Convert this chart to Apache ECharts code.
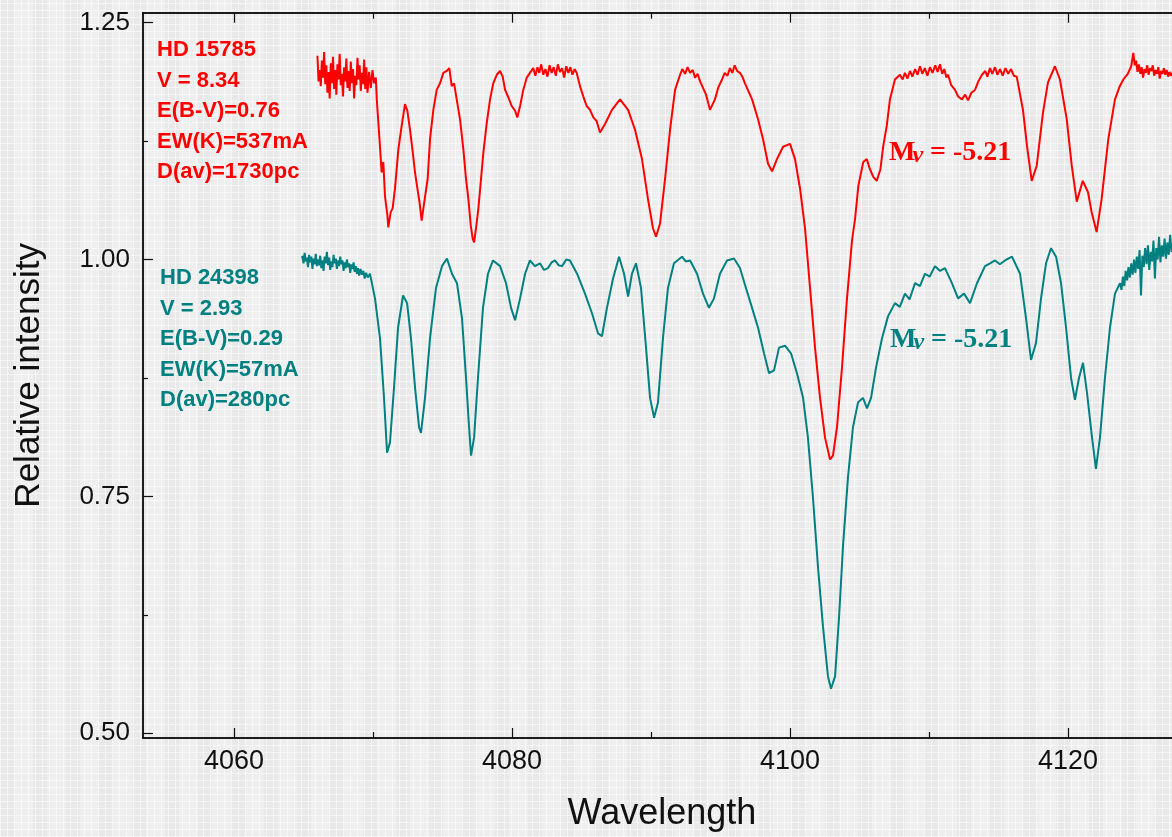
<!DOCTYPE html>
<html>
<head>
<meta charset="utf-8">
<title>Spectra</title>
<script src="https://cdn.jsdelivr.net/npm/echarts@6/dist/echarts.min.js"></script>
<style>
  html, body { margin: 0; padding: 0; overflow: hidden; }
  body {
    width: 1172px; height: 837px;
    background-color: #eeeeee;
    background-image:
      repeating-linear-gradient(90deg, rgba(255,255,255,0.55) 0 1px, transparent 1px 7px),
      repeating-linear-gradient(0deg, rgba(255,255,255,0.55) 0 1px, transparent 1px 7px),
      repeating-linear-gradient(90deg, rgba(0,0,0,0.025) 0 14px, transparent 14px 33px);
  }
  /* the plot runs on past the right edge of the picture */
  #chart { width: 1200px; height: 837px; }
</style>
</head>
<body>
<div id="chart"></div>
<script>
  // wavelength (A), relative intensity
  var redSpectrum = [
    [4066.00,1.215],[4066.08,1.188],[4066.16,1.200],[4066.24,1.183],[4066.32,1.210],[4066.40,1.192],
    [4066.48,1.219],[4066.56,1.185],[4066.64,1.205],[4066.72,1.176],[4066.80,1.198],[4066.88,1.170],
    [4066.96,1.207],[4067.04,1.186],[4067.12,1.214],[4067.20,1.180],[4067.28,1.200],[4067.36,1.174],
    [4067.44,1.206],[4067.52,1.190],[4067.60,1.217],[4067.68,1.184],[4067.76,1.196],[4067.84,1.172],
    [4067.92,1.203],[4068.00,1.188],[4068.08,1.212],[4068.16,1.181],[4068.24,1.199],[4068.32,1.178],
    [4068.40,1.209],[4068.48,1.186],[4068.56,1.201],[4068.64,1.170],[4068.72,1.194],[4068.80,1.184],
    [4068.88,1.213],[4068.96,1.190],[4069.04,1.205],[4069.12,1.178],[4069.20,1.197],[4069.28,1.185],
    [4069.36,1.211],[4069.44,1.180],[4069.52,1.203],[4069.60,1.176],[4069.72,1.198],[4069.84,1.181],
    [4069.96,1.200],[4070.08,1.186],[4070.20,1.192],[4070.27,1.169],[4070.45,1.130],[4070.62,1.092],
    [4070.74,1.103],[4070.86,1.067],[4071.03,1.047],[4071.10,1.034],[4071.27,1.050],[4071.41,1.054],
    [4071.58,1.075],[4071.82,1.116],[4072.06,1.141],[4072.30,1.164],[4072.47,1.157],[4072.66,1.137],
    [4072.86,1.113],[4073.02,1.092],[4073.19,1.075],[4073.34,1.061],[4073.50,1.041],[4073.67,1.059],
    [4073.81,1.057],[4073.93,1.085],[4074.10,1.127],[4074.34,1.158],[4074.58,1.179],[4074.82,1.186],
    [4075.06,1.197],[4075.30,1.199],[4075.49,1.202],[4075.66,1.183],[4075.83,1.186],[4076.02,1.169],
    [4076.26,1.148],[4076.50,1.116],[4076.69,1.085],[4076.86,1.064],[4077.03,1.036],[4077.17,1.022],
    [4077.27,1.018],[4077.41,1.033],[4077.58,1.054],[4077.75,1.082],[4077.94,1.113],[4078.18,1.144],
    [4078.42,1.169],[4078.65,1.186],[4078.90,1.195],[4079.14,1.199],[4079.33,1.193],[4079.50,1.179],
    [4079.74,1.171],[4079.98,1.162],[4080.22,1.157],[4080.38,1.150],[4080.58,1.162],[4080.81,1.179],
    [4081.06,1.192],[4081.29,1.197],[4081.53,1.202],[4081.68,1.194],[4081.83,1.203],[4081.96,1.197],
    [4082.10,1.206],[4082.25,1.195],[4082.40,1.201],[4082.55,1.193],[4082.70,1.205],[4082.85,1.197],
    [4083.00,1.203],[4083.15,1.194],[4083.30,1.206],[4083.45,1.198],[4083.60,1.202],[4083.75,1.192],
    [4083.90,1.204],[4084.05,1.197],[4084.20,1.203],[4084.35,1.195],[4084.50,1.201],[4084.65,1.197],
    [4084.89,1.183],[4085.13,1.172],[4085.37,1.162],[4085.61,1.158],[4085.85,1.150],[4086.09,1.146],
    [4086.33,1.134],[4086.69,1.143],[4087.19,1.158],[4087.77,1.169],[4088.35,1.158],[4088.85,1.137],
    [4089.35,1.106],[4089.78,1.064],[4090.14,1.033],[4090.36,1.024],[4090.65,1.038],[4091.01,1.085],
    [4091.37,1.137],[4091.73,1.179],[4092.09,1.195],[4092.25,1.201],[4092.45,1.196],[4092.63,1.203],
    [4092.81,1.197],[4093.00,1.200],[4093.17,1.192],[4093.35,1.196],[4093.53,1.188],[4093.96,1.174],
    [4094.24,1.158],[4094.60,1.169],[4094.85,1.182],[4095.11,1.190],[4095.30,1.197],[4095.50,1.194],
    [4095.68,1.202],[4095.85,1.197],[4096.02,1.205],[4096.19,1.199],[4096.40,1.197],[4096.60,1.192],
    [4096.76,1.186],[4097.27,1.169],[4097.70,1.148],[4098.06,1.127],[4098.42,1.101],[4098.71,1.093],
    [4099.06,1.106],[4099.50,1.119],[4100.00,1.122],[4100.36,1.106],[4100.72,1.075],[4101.08,1.033],
    [4101.44,0.970],[4101.80,0.907],[4102.16,0.854],[4102.52,0.812],[4102.88,0.789],[4103.09,0.793],
    [4103.38,0.823],[4103.74,0.886],[4104.10,0.959],[4104.46,1.020],[4104.68,1.043],[4104.92,1.078],
    [4105.27,1.103],[4105.52,1.106],[4105.76,1.095],[4106.00,1.087],[4106.24,1.083],[4106.50,1.095],
    [4106.71,1.120],[4106.96,1.141],[4107.19,1.169],[4107.55,1.190],[4107.91,1.195],[4108.10,1.190],
    [4108.27,1.197],[4108.45,1.191],[4108.63,1.199],[4108.80,1.193],[4109.00,1.201],[4109.18,1.195],
    [4109.35,1.204],[4109.52,1.196],[4109.70,1.202],[4109.88,1.194],[4110.07,1.203],[4110.25,1.197],
    [4110.45,1.205],[4110.62,1.198],[4110.79,1.206],[4110.95,1.196],[4111.10,1.201],[4111.25,1.192],
    [4111.37,1.195],[4111.60,1.184],[4111.87,1.179],[4112.10,1.172],[4112.37,1.169],[4112.60,1.174],
    [4112.81,1.168],[4113.05,1.176],[4113.31,1.179],[4113.55,1.188],[4113.81,1.195],[4114.05,1.199],
    [4114.20,1.193],[4114.39,1.202],[4114.55,1.196],[4114.75,1.203],[4114.92,1.195],[4115.11,1.201],
    [4115.30,1.194],[4115.50,1.202],[4115.70,1.196],[4115.90,1.201],[4116.10,1.194],[4116.31,1.193],
    [4116.76,1.158],[4117.05,1.120],[4117.39,1.083],[4117.75,1.099],[4118.20,1.155],[4118.56,1.187],
    [4119.06,1.204],[4119.42,1.190],[4119.91,1.148],[4120.27,1.099],[4120.63,1.061],[4121.06,1.083],
    [4121.44,1.071],[4121.70,1.050],[4122.06,1.029],[4122.42,1.064],[4122.90,1.127],[4123.38,1.169],
    [4123.70,1.182],[4123.98,1.190],[4124.30,1.196],[4124.55,1.204],[4124.70,1.218],[4124.80,1.205],
    [4124.90,1.210],[4125.00,1.198],[4125.10,1.206],[4125.20,1.196],[4125.30,1.203],[4125.40,1.192],
    [4125.50,1.201],[4125.60,1.197],[4125.70,1.205],[4125.80,1.195],[4125.90,1.202],[4126.00,1.199],
    [4126.10,1.205],[4126.20,1.194],[4126.30,1.200],[4126.40,1.196],[4126.50,1.203],[4126.60,1.191],
    [4126.70,1.199],[4126.80,1.196],[4126.90,1.202],[4127.00,1.195],[4127.10,1.200],[4127.20,1.193],
    [4127.30,1.198],[4127.40,1.194],[4127.60,1.199],[4127.80,1.196],[4128.00,1.198]
  ];

  var tealSpectrum = [
    [4064.90,1.004],[4065.00,0.996],[4065.08,1.007],[4065.16,0.998],[4065.24,1.002],[4065.32,0.992],
    [4065.40,1.005],[4065.48,0.997],[4065.56,1.003],[4065.64,0.990],[4065.72,1.001],[4065.80,0.995],
    [4065.88,1.006],[4065.96,0.993],[4066.04,1.000],[4066.12,0.994],[4066.20,1.004],[4066.28,0.991],
    [4066.36,0.999],[4066.44,0.988],[4066.52,1.003],[4066.60,0.996],[4066.68,1.008],[4066.76,0.994],
    [4066.84,1.002],[4066.92,0.989],[4067.00,0.998],[4067.08,0.992],[4067.16,1.005],[4067.24,0.996],
    [4067.32,1.001],[4067.40,0.990],[4067.48,0.999],[4067.56,0.993],[4067.64,1.003],[4067.72,0.995],
    [4067.80,0.999],[4067.88,0.988],[4067.96,0.997],[4068.04,0.991],[4068.12,1.000],[4068.20,0.992],
    [4068.28,0.996],[4068.36,0.986],[4068.44,0.995],[4068.52,0.990],[4068.60,0.997],[4068.68,0.987],
    [4068.76,0.993],[4068.84,0.985],[4068.92,0.991],[4069.00,0.983],[4069.10,0.990],[4069.20,0.984],
    [4069.30,0.988],[4069.40,0.980],[4069.50,0.986],[4069.62,0.981],[4069.78,0.985],[4070.14,0.959],
    [4070.50,0.917],[4070.79,0.854],[4071.01,0.796],[4071.22,0.807],[4071.51,0.865],[4071.80,0.928],
    [4072.16,0.962],[4072.45,0.954],[4072.73,0.917],[4073.02,0.865],[4073.31,0.823],[4073.45,0.817],
    [4073.74,0.854],[4074.10,0.917],[4074.53,0.970],[4074.96,0.993],[4075.32,1.001],[4075.68,0.985],
    [4076.04,0.975],[4076.40,0.938],[4076.69,0.875],[4076.91,0.823],[4077.05,0.793],[4077.27,0.812],
    [4077.55,0.875],[4077.91,0.949],[4078.27,0.985],[4078.63,0.999],[4079.14,0.993],[4079.57,0.975],
    [4079.93,0.949],[4080.22,0.936],[4080.58,0.959],[4080.94,0.985],[4081.29,0.999],[4081.65,0.993],
    [4082.01,0.996],[4082.30,0.989],[4082.59,0.991],[4082.85,0.997],[4083.09,0.999],[4083.35,0.994],
    [4083.60,0.993],[4083.90,1.000],[4084.17,0.999],[4084.68,0.985],[4085.25,0.964],[4085.76,0.943],
    [4086.19,0.922],[4086.47,0.919],[4086.83,0.949],[4087.27,0.980],[4087.70,1.003],[4088.06,0.985],
    [4088.35,0.961],[4088.63,0.985],[4088.92,0.996],[4089.28,0.970],[4089.64,0.907],[4089.93,0.854],
    [4090.22,0.833],[4090.50,0.849],[4090.86,0.917],[4091.22,0.970],[4091.65,0.996],[4092.23,1.003],
    [4092.50,0.998],[4092.81,0.999],[4093.31,0.985],[4093.74,0.964],[4094.17,0.949],[4094.53,0.959],
    [4094.96,0.985],[4095.47,0.999],[4095.97,1.001],[4096.40,0.991],[4096.83,0.970],[4097.27,0.949],
    [4097.70,0.928],[4098.13,0.901],[4098.49,0.880],[4098.85,0.883],[4099.21,0.907],[4099.64,0.909],
    [4100.07,0.901],[4100.50,0.880],[4100.94,0.854],[4101.29,0.812],[4101.65,0.749],[4102.01,0.676],
    [4102.37,0.613],[4102.73,0.560],[4102.95,0.547],[4103.24,0.560],[4103.53,0.623],[4103.81,0.697],
    [4104.17,0.770],[4104.53,0.823],[4104.89,0.849],[4105.25,0.854],[4105.54,0.843],[4105.83,0.854],
    [4106.19,0.886],[4106.62,0.917],[4107.05,0.940],[4107.55,0.954],[4107.90,0.950],[4108.27,0.964],
    [4108.60,0.958],[4108.99,0.975],[4109.35,0.972],[4109.71,0.985],[4110.05,0.982],[4110.43,0.993],
    [4110.80,0.988],[4111.15,0.991],[4111.65,0.975],[4112.09,0.959],[4112.52,0.964],[4112.95,0.954],
    [4113.45,0.975],[4114.03,0.993],[4114.40,0.996],[4114.75,0.999],[4115.10,0.995],[4115.47,0.999],
    [4115.97,1.003],[4116.55,0.985],[4116.98,0.938],[4117.34,0.894],[4117.70,0.912],[4118.06,0.959],
    [4118.42,0.996],[4118.78,1.012],[4119.14,1.003],[4119.50,0.975],[4119.86,0.928],[4120.22,0.875],
    [4120.50,0.852],[4120.79,0.875],[4121.08,0.891],[4121.37,0.859],[4121.73,0.812],[4122.01,0.779],
    [4122.30,0.812],[4122.66,0.875],[4123.02,0.928],[4123.38,0.964],[4123.74,0.975],[4123.85,0.968],
    [4123.95,0.982],[4124.05,0.972],[4124.15,0.988],[4124.25,0.978],[4124.35,0.992],[4124.45,0.981],
    [4124.55,0.996],[4124.65,0.984],[4124.75,1.000],[4124.85,0.986],[4124.95,1.003],[4125.05,0.990],
    [4125.15,1.010],[4125.25,0.962],[4125.35,1.004],[4125.45,0.992],[4125.55,1.012],[4125.65,0.995],
    [4125.75,1.015],[4125.85,0.989],[4125.95,1.008],[4126.05,0.998],[4126.15,1.020],[4126.25,0.980],
    [4126.35,1.012],[4126.45,1.000],[4126.55,1.024],[4126.65,0.997],[4126.75,1.015],[4126.85,1.003],
    [4126.95,1.022],[4127.05,1.001],[4127.15,1.018],[4127.25,1.005],[4127.35,1.026],[4127.45,1.008],
    [4127.60,1.015],[4127.80,1.010],[4128.00,1.018]
  ];

  var xMajorTicks = [4060, 4080, 4100, 4120];
  var xMinorTicks = [4070, 4090, 4110];
  var yMajorTicks = [0.50, 0.75, 1.00, 1.25];
  var yMinorTicks = [0.625, 0.875, 1.125];

  var redInfo = ['HD 15785', 'V = 8.34', 'E(B-V)=0.76', 'EW(K)=537mA', 'D(av)=1730pc'];
  var tealInfo = ['HD 24398', 'V = 2.93', 'E(B-V)=0.29', 'EW(K)=57mA', 'D(av)=280pc'];
  var magnitude = '-5.21';

  var RED = '#ff0000';
  var TEAL = '#008080';
  var xMin = 4053.45, xMax = 4128.13;
  var yMin = 0.495, yMax = 1.2605;

  var chart = echarts.init(document.getElementById('chart'), null, { renderer: 'canvas' });

  function xAxisDef(position, ticks, len, withLabels) {
    return {
      type: 'value', position: position, min: xMin, max: xMax,
      axisLine: { show: true, lineStyle: { color: '#111', width: 1.5 } },
      axisTick: { show: true, inside: true, length: len, customValues: ticks, lineStyle: { color: '#111', width: 1.2 } },
      axisLabel: withLabels ? {
        show: true, customValues: ticks, margin: 10,
        fontFamily: 'Liberation Sans, Arial', fontSize: 27, color: '#111',
        formatter: function (v) { return String(v); }
      } : { show: false },
      splitLine: { show: false },
      name: withLabels ? 'Wavelength' : '',
      nameLocation: 'middle', nameGap: 58,
      nameTextStyle: { fontFamily: 'Liberation Sans, Arial', fontSize: 36, color: '#111' }
    };
  }

  function yAxisDef(ticks, len, withLabels) {
    return {
      type: 'value', position: 'left', min: yMin, max: yMax,
      axisLine: { show: true, lineStyle: { color: '#111', width: 1.5 } },
      axisTick: { show: true, inside: true, length: len, customValues: ticks, lineStyle: { color: '#111', width: 1.2 } },
      axisLabel: withLabels ? {
        show: true, customValues: ticks, margin: 13,
        fontFamily: 'Liberation Sans, Arial', fontSize: 26, color: '#111',
        formatter: function (v) { return v.toFixed(2); }
      } : { show: false },
      splitLine: { show: false },
      name: withLabels ? 'Relative intensity' : '',
      nameLocation: 'middle', nameGap: 96,
      nameTextStyle: { fontFamily: 'Liberation Sans, Arial', fontSize: 35, color: '#111' }
    };
  }

  function infoBlock(lines, color, x, y) {
    return {
      type: 'text', left: x, top: y, z: 10,
      style: {
        text: lines.join('\n'), fill: color, lineHeight: 30.5,
        font: 'bold 22px "Liberation Sans", Arial'
      }
    };
  }

  function magLabel(color, x, y) {
    return {
      type: 'text', left: x, top: y, z: 10,
      style: {
        text: '{m|M}{v|v}{r| = ' + magnitude + '}',
        rich: {
          m: { fontFamily: 'Liberation Serif', fontWeight: 'bold', fontSize: 28, fill: color, color: color },
          v: { fontFamily: 'Liberation Serif', fontWeight: 'bold', fontStyle: 'italic', fontSize: 24, fill: color, color: color, padding: [6, 0, 0, -3] },
          r: { fontFamily: 'Liberation Serif', fontWeight: 'bold', fontSize: 28, fill: color, color: color }
        }
      }
    };
  }

  chart.setOption({
    backgroundColor: 'transparent',
    animation: false,
    grid: { left: 143, top: 12.7, width: 1038, height: 729.6, containLabel: false },
    xAxis: [
      xAxisDef('bottom', xMajorTicks, 10, true),
      xAxisDef('bottom', xMinorTicks, 6, false),
      xAxisDef('top', xMajorTicks, 10, false),
      xAxisDef('top', xMinorTicks, 6, false)
    ],
    yAxis: [
      yAxisDef(yMajorTicks, 10, true),
      yAxisDef(yMinorTicks, 5, false)
    ],
    series: [
      {
        name: 'HD 15785', type: 'line', xAxisIndex: 0, yAxisIndex: 0,
        data: redSpectrum, showSymbol: false, symbol: 'none',
        lineStyle: { color: RED, width: 2 }, z: 3
      },
      {
        name: 'HD 24398', type: 'line', xAxisIndex: 0, yAxisIndex: 0,
        data: tealSpectrum, showSymbol: false, symbol: 'none',
        lineStyle: { color: TEAL, width: 2 }, z: 3
      }
    ],
    graphic: [
      infoBlock(redInfo, RED, 157, 35),
      infoBlock(tealInfo, TEAL, 160, 263),
      magLabel(RED, 889, 139),
      magLabel(TEAL, 890, 326)
    ]
  });
</script>
</body>
</html>
